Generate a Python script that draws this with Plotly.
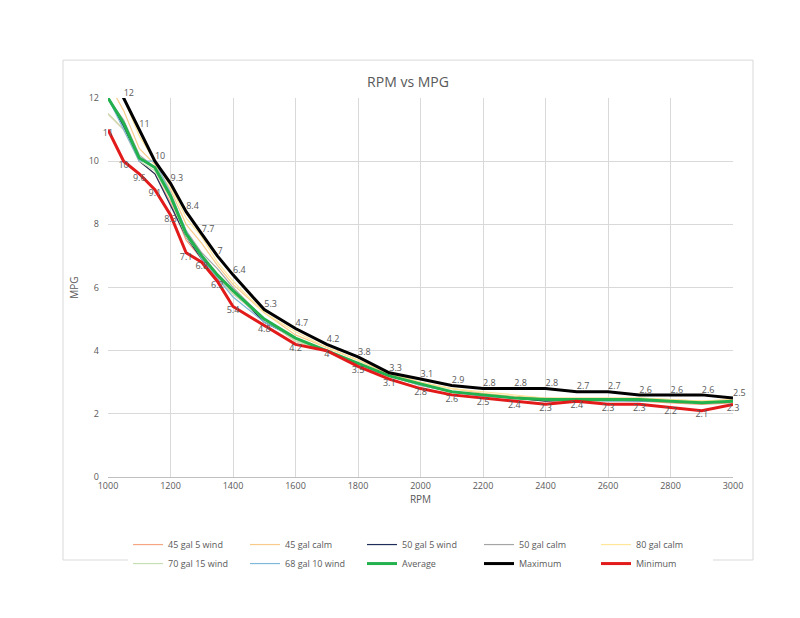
import plotly.graph_objects as go

rpm = [1000,1050,1100,1150,1200,1250,1300,1350,1400,1500,1600,1700,1800,1900,2000,2100,2200,2300,2400,2500,2600,2700,2800,2900,3000]
maximum = [13,12,11,10,9.3,8.4,7.7,7,6.4,5.3,4.7,4.2,3.8,3.3,3.1,2.9,2.8,2.8,2.8,2.7,2.7,2.6,2.6,2.6,2.5]
minimum = [11,10,9.6,9.1,8.3,7.1,6.8,6.2,5.4,4.8,4.2,4,3.5,3.1,2.8,2.6,2.5,2.4,2.3,2.4,2.3,2.3,2.2,2.1,2.3]
average = [12,11.2,10.1,9.8,8.9,7.7,7.0,6.4,5.9,5.0,4.4,4.0,3.6,3.2,2.95,2.7,2.6,2.5,2.45,2.45,2.45,2.45,2.4,2.35,2.4]
g45_5w = [11.5,11,10.0,9.6,8.7,7.5,6.9,6.3,5.8,5.0,4.3,4.0,3.6,3.2,2.9,2.7,2.6,2.5,2.4,2.4,2.4,2.4,2.35,2.3,2.35]
g45_calm = [12.5,11.6,10.4,9.9,9.1,8.0,7.4,6.7,6.1,5.2,4.5,4.1,3.7,3.25,3.0,2.8,2.65,2.55,2.5,2.5,2.5,2.5,2.45,2.4,2.45]
g50_5w = [12,11.1,10.0,9.6,8.6,7.6,6.9,6.4,5.9,4.9,4.4,4.0,3.6,3.2,2.95,2.7,2.6,2.5,2.4,2.45,2.45,2.4,2.4,2.35,2.4]
g50_calm = [12,11.3,10.2,9.8,8.9,7.8,7.1,6.6,6.0,5.0,4.4,4.0,3.6,3.2,2.95,2.7,2.6,2.5,2.5,2.45,2.45,2.45,2.4,2.35,2.4]
g80_calm = [12.5,12,10.8,10,9.2,8.2,7.6,6.8,6.2,5.2,4.6,4.1,3.7,3.3,3.0,2.8,2.7,2.6,2.5,2.5,2.5,2.5,2.45,2.4,2.45]
g70_15w = [11.5,11,10.0,9.7,8.8,7.6,7.0,6.3,5.8,5.0,4.3,4.0,3.6,3.2,2.9,2.7,2.6,2.5,2.45,2.4,2.4,2.45,2.4,2.35,2.4]
g68_10w = [12,11,10.0,10,9.0,7.8,6.9,6.3,5.7,4.9,4.4,4.0,3.5,3.2,2.9,2.7,2.55,2.5,2.45,2.45,2.4,2.4,2.4,2.35,2.4]

thin = [("45 gal 5 wind", g45_5w, "#F4A582"), ("45 gal calm", g45_calm, "#F8CB8A"),
        ("50 gal 5 wind", g50_5w, "#1F2D5A"), ("50 gal calm", g50_calm, "#A5A5A5"),
        ("80 gal calm", g80_calm, "#FFE699"), ("70 gal 15 wind", g70_15w, "#C5E0B4"),
        ("68 gal 10 wind", g68_10w, "#7FB8D8")]

fig = go.Figure()
for name, ys, c in thin:
    fig.add_trace(go.Scatter(x=rpm, y=ys, name=name, mode="lines", line=dict(color=c, width=1.2)))
fig.add_trace(go.Scatter(x=rpm, y=average, name="Average", mode="lines", line=dict(color="#22B14C", width=3)))
fig.add_trace(go.Scatter(x=rpm, y=maximum, name="Maximum", mode="lines+text", line=dict(color="black", width=3),
                         text=[""]+[f"{v:g}" for v in maximum[1:]], textposition="top right",
                         textfont=dict(size=9, color="#595959"), cliponaxis=False))
fig.add_trace(go.Scatter(x=rpm, y=minimum, name="Minimum", mode="lines+text", line=dict(color="#E21A1A", width=3),
                         text=[f"{v:g}" for v in minimum], textposition="bottom center",
                         textfont=dict(size=9, color="#595959"), cliponaxis=False))

fig.add_shape(type="rect", xref="paper", yref="paper", x0=-0.072, x1=1.032, y0=-0.219, y1=1.1,
              line=dict(color="#D9D9D9", width=1), layer="below")

fig.update_layout(
    width=800, height=618, margin=dict(l=100, r=75, t=90, b=149),
    paper_bgcolor="white", plot_bgcolor="white",
    font=dict(family="Open Sans, Liberation Sans, sans-serif", color="#595959", size=10),
    title=dict(text="RPM vs MPG", x=0.5, xanchor="center", y=0.88, yanchor="middle",
               font=dict(size=14, color="#595959")),
    xaxis=dict(title=dict(text="RPM", font=dict(size=10), standoff=4), range=[1000,3000], dtick=200,
               showgrid=True, gridcolor="#D9D9D9", linecolor="#BFBFBF", ticks="", zeroline=False,
               tickfont=dict(size=9)),
    yaxis=dict(title=dict(text="MPG", font=dict(size=10), standoff=8), range=[0,12], dtick=2,
               showgrid=True, gridcolor="#D9D9D9", zeroline=False, ticks="", tickfont=dict(size=9),
               ticklabelstandoff=8),
    legend=dict(orientation="h", x=0.5, xanchor="center", y=-0.14, yanchor="top",
                entrywidth=72, itemwidth=30, font=dict(size=9), tracegroupgap=0),
)
fig.write_html("out.html")
